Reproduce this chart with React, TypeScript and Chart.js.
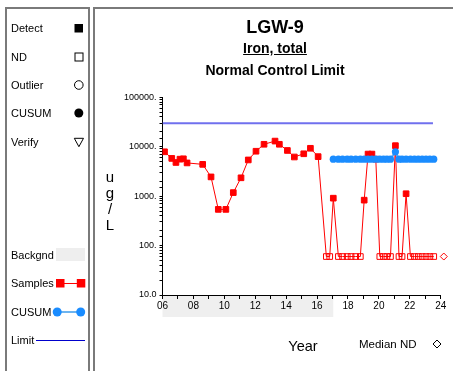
import React, { useEffect, useRef } from "react";
import { Chart, registerables } from "chart.js";

Chart.register(...registerables);

// ---- Data ----
const sampleYears = [
  6.13, 6.6, 6.87, 7.13, 7.35, 7.59, 8.6, 9.14, 9.61, 10.1, 10.58, 11.08, 11.55, 12.05, 12.57,
  13.28, 13.56, 14.08, 14.53, 15.14, 15.57, 16.07, 16.6, 16.82, 17.05, 17.38, 17.65, 17.95, 18.2,
  18.5, 18.8, 19.05, 19.3, 19.55, 19.8, 20.06, 20.3, 20.52, 20.75, 21.07, 21.3, 21.5, 21.76, 22.04,
  22.3, 22.55, 22.8, 23.05, 23.3, 23.55,
];
const sampleValues = [
  7900, 5800, 4800, 5600, 5700, 4700, 4400, 2450, 540, 540, 1180, 2350, 5400, 8100, 11200,
  13000, 11200, 8400, 6200, 7200, 9300, 6300, 60, 60, 910, 60, 60, 60, 60,
  60, 60, 830, 7100, 7100, 5600, 60, 60, 60, 60, 10500, 60, 60, 1120, 60,
  60, 60, 60, 60, 60, 60,
];
// 1 = non-detect (ND), 0 = detect
const sampleND = [
  0, 0, 0, 0, 0, 0, 0, 0, 0, 0, 0, 0, 0, 0, 0,
  0, 0, 0, 0, 0, 0, 0, 1, 1, 0, 1, 1, 1, 1,
  1, 1, 0, 0, 0, 0, 1, 1, 1, 1, 0, 1, 1, 0, 1,
  1, 1, 1, 1, 1, 1,
];
const cusumYears = [
  17.05, 17.38, 17.65, 17.95, 18.2, 18.5, 18.8, 19.05, 19.3, 19.55, 19.8, 20.06, 20.3,
  20.52, 20.75, 21.07, 21.3, 21.5, 21.76, 22.04, 22.3, 22.55, 22.8, 23.05, 23.3, 23.55,
];
const cusumValues = [
  5600, 5600, 5600, 5600, 5600, 5600, 5600, 5600, 5600, 5600, 5600, 5600, 5600,
  5600, 5600, 7900, 5600, 5600, 5600, 5600, 5600, 5600, 5600, 5600, 5600, 5600,
];
const limitYears = [6, 23.5];
const limitValues = [30000, 30000];
const medianNDYear = 24.2;
const medianNDValue = 60;
const backgroundStart = 6;
const backgroundEnd = 17.05;
const yLabelValues = [10, 100, 1000, 10000, 100000];
const yLabelTexts = ["10.0", "100.", "1000.", "10000.", "100000."];
const xMin = 6;
const xMax = 24;

const FONT = '"Liberation Sans", Arial, Helvetica, sans-serif';

const overlayPlugin = {
  id: "overlayPlugin",
  beforeDraw(chart: any) {
    const { ctx, chartArea, scales } = chart;
    const x0 = scales.x.getPixelForValue(backgroundStart);
    const x1 = scales.x.getPixelForValue(backgroundEnd);
    ctx.save();
    ctx.fillStyle = "#efefef";
    ctx.fillRect(x0, chartArea.bottom + 1, x1 - x0, 21);
    ctx.restore();
  },
  afterDatasetsDraw(chart: any) {
    const { ctx, scales } = chart;
    const px = scales.x.getPixelForValue(medianNDYear);
    const py = scales.y.getPixelForValue(medianNDValue);
    const r = 3.5;
    ctx.save();
    ctx.strokeStyle = "#ff0000";
    ctx.lineWidth = 1;
    ctx.beginPath();
    ctx.moveTo(px, py - r);
    ctx.lineTo(px + r, py);
    ctx.lineTo(px, py + r);
    ctx.lineTo(px - r, py);
    ctx.closePath();
    ctx.stroke();
    ctx.restore();
  },
};

function ChartCanvas() {
  const ref = useRef<HTMLCanvasElement | null>(null);
  useEffect(() => {
    if (!ref.current) return;
    const chart = new Chart(ref.current, {
      type: "line",
      data: {
        datasets: [
          {
            label: "Limit",
            data: limitYears.map((x, i) => ({ x, y: limitValues[i] })),
            borderColor: "#7070ee",
            borderWidth: 2,
            pointRadius: 0,
            order: 3,
          },
          {
            label: "Samples",
            data: sampleYears.map((x, i) => ({ x, y: sampleValues[i] })),
            borderColor: "#ff0000",
            borderWidth: 1,
            pointStyle: "rect",
            pointRadius: 4,
            pointBorderWidth: 1,
            pointBorderColor: "#ff0000",
            pointBackgroundColor: (c: any) =>
              sampleND[c.dataIndex] ? "rgba(0,0,0,0)" : "#ff0000",
            order: 2,
          },
          {
            label: "CUSUM",
            data: cusumYears.map((x, i) => ({ x, y: cusumValues[i] })),
            borderColor: "#66aaf0",
            borderWidth: 2,
            pointStyle: "circle",
            pointRadius: 3.6,
            pointBorderWidth: 0,
            pointBackgroundColor: "#1a8cff",
            order: 1,
          },
        ],
      },
      options: {
        animation: false,
        responsive: false,
        maintainAspectRatio: false,
        devicePixelRatio: 1,
        events: [],
        layout: { padding: { left: 102.5, right: 12.3, top: 97.3, bottom: 51 } },
        plugins: { legend: { display: false }, tooltip: { enabled: false }, title: { display: false } },
        scales: {
          x: {
            type: "linear",
            min: xMin,
            max: xMax,
            afterFit: (s: any) => {
              s.height = 25;
            },
            border: { display: true, color: "#000", width: 1 },
            grid: { display: true, drawOnChartArea: false, drawTicks: true, tickLength: 4, color: "#000" },
            ticks: {
              stepSize: 1,
              autoSkip: false,
              maxRotation: 0,
              padding: 1,
              color: "#000",
              font: { family: FONT, size: 10 },
              callback: (v: any) => (Number(v) % 2 === 0 ? String(v).padStart(2, "0") : ""),
            },
          },
          y: {
            type: "logarithmic",
            min: 10,
            max: 100000,
            afterFit: (s: any) => {
              s.width = 60;
            },
            border: { display: true, color: "#000", width: 1 },
            grid: { display: true, drawOnChartArea: false, drawTicks: true, tickLength: 3, color: "#000" },
            ticks: {
              autoSkip: false,
              padding: 3,
              color: "#000",
              font: { family: FONT, size: 9 },
              callback: (v: any) => {
                const i = yLabelValues.indexOf(Number(v));
                return i >= 0 ? yLabelTexts[i] : "";
              },
            },
          },
        },
      },
      plugins: [overlayPlugin],
    } as any);
    return () => chart.destroy();
  }, []);
  return (
    <canvas
      ref={ref}
      width={453}
      height={371}
      style={{ position: "absolute", left: 0, top: 0, width: 453, height: 371 }}
    />
  );
}

const legendRows = [
  { text: "Detect", y: 28 },
  { text: "ND", y: 57 },
  { text: "Outlier", y: 85 },
  { text: "CUSUM", y: 113 },
  { text: "Verify", y: 142 },
  { text: "Backgnd", y: 255 },
  { text: "Samples", y: 283 },
  { text: "CUSUM", y: 312 },
  { text: "Limit", y: 340 },
];

export default function App() {
  return (
    <div
      style={{
        position: "fixed",
        left: 0,
        top: 0,
        width: 453,
        height: 371,
        background: "#fff",
        overflow: "hidden",
        fontFamily: FONT,
        color: "#000",
      }}
    >
      <div
        style={{
          position: "absolute",
          left: 5,
          top: 7,
          width: 85,
          height: 420,
          border: "2px solid #7a7a7a",
          boxSizing: "border-box",
        }}
      />
      <div
        style={{
          position: "absolute",
          left: 93,
          top: 7,
          width: 420,
          height: 420,
          border: "2px solid #7a7a7a",
          boxSizing: "border-box",
        }}
      />
      <ChartCanvas />
      {legendRows.map((r, i) => (
        <div
          key={i}
          style={{
            position: "absolute",
            left: 11,
            top: r.y - 7,
            fontSize: 11,
            lineHeight: "14px",
            whiteSpace: "nowrap",
          }}
        >
          {r.text}
        </div>
      ))}
      <svg
        width={92}
        height={371}
        style={{ position: "absolute", left: 0, top: 0 }}
      >
        <rect x={74.5} y={24} width={8.5} height={8.5} fill="#000" />
        <rect x={75} y={53} width={8} height={8} fill="none" stroke="#000" strokeWidth={1} />
        <circle cx={78.8} cy={85} r={4.3} fill="none" stroke="#000" strokeWidth={1} />
        <circle cx={78.8} cy={113} r={4.5} fill="#000" />
        <polygon points="74.3,138.3 83.5,138.3 78.9,146.7" fill="none" stroke="#000" strokeWidth={1} />
        <rect x={56} y={248} width={29} height={13} fill="#eeeeee" />
        <line x1={60} y1={283.5} x2={81} y2={283.5} stroke="#ff0000" strokeWidth={1} />
        <rect x={56} y={279} width={8.5} height={8.5} fill="#ff0000" />
        <rect x={76.8} y={279} width={8.5} height={8.5} fill="#ff0000" />
        <line x1={57} y1={312} x2={81} y2={312} stroke="#6cb4f0" strokeWidth={2} />
        <circle cx={57.2} cy={312} r={4.5} fill="#1a8cff" />
        <circle cx={80.7} cy={312} r={4.5} fill="#1a8cff" />
        <line x1={36} y1={340.5} x2={85} y2={340.5} stroke="#0000cc" strokeWidth={1} />
      </svg>
      <div
        style={{
          position: "absolute",
          left: 175,
          width: 200,
          top: 17,
          fontSize: 18,
          lineHeight: "20px",
          fontWeight: "bold",
          textAlign: "center",
        }}
      >
        LGW-9
      </div>
      <div
        style={{
          position: "absolute",
          left: 175,
          width: 200,
          top: 40,
          fontSize: 14,
          lineHeight: "16px",
          fontWeight: "bold",
          textAlign: "center",
          textDecoration: "underline",
        }}
      >
        Iron, total
      </div>
      <div
        style={{
          position: "absolute",
          left: 175,
          width: 200,
          top: 62,
          fontSize: 14,
          lineHeight: "16px",
          fontWeight: "bold",
          textAlign: "center",
        }}
      >
        Normal Control Limit
      </div>
      <div
        style={{
          position: "absolute",
          left: 100,
          width: 20,
          top: 169,
          fontSize: 15,
          lineHeight: "16px",
          textAlign: "center",
        }}
      >
        <div>u</div>
        <div>g</div>
        <div>/</div>
        <div>L</div>
      </div>
      <div
        style={{
          position: "absolute",
          left: 263,
          width: 80,
          top: 337.5,
          fontSize: 14.5,
          lineHeight: "16px",
          textAlign: "center",
        }}
      >
        Year
      </div>
      <div
        style={{
          position: "absolute",
          left: 359,
          top: 336.7,
          fontSize: 11.5,
          lineHeight: "14px",
          whiteSpace: "nowrap",
        }}
      >
        Median ND
      </div>
      <svg width={10} height={10} style={{ position: "absolute", left: 431.7, top: 339 }}>
        <polygon points="5,1 9,5 5,9 1,5" fill="none" stroke="#000" strokeWidth={1} />
      </svg>
    </div>
  );
}
